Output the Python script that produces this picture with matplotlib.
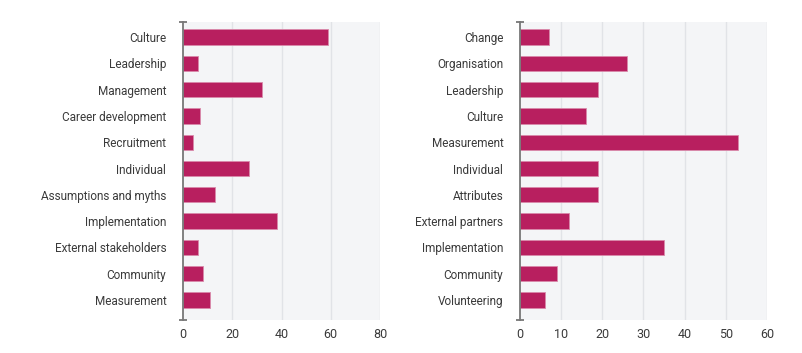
import matplotlib
matplotlib.use("Agg")
import matplotlib.pyplot as plt

left_cats = ["Culture", "Leadership", "Management", "Career development", "Recruitment",
             "Individual", "Assumptions and myths", "Implementation", "External stakeholders",
             "Community", "Measurement"]
left_vals = [59, 6, 32, 7, 4, 27, 13, 38, 6, 8, 11]
left_ticks = [0, 20, 40, 60, 80]

right_cats = ["Change", "Organisation", "Leadership", "Culture", "Measurement", "Individual",
              "Attributes", "External partners", "Implementation", "Community", "Volunteering"]
right_vals = [7, 26, 19, 16, 53, 19, 19, 12, 35, 9, 6]
right_ticks = [0, 10, 20, 30, 40, 50, 60]

plt.rcParams['font.family'] = ['Roboto', 'DejaVu Sans']

BAR = "#b81f5f"
BG = "#f4f5f7"
GRID = "#e1e3e7"
TXT = "#3a3a3a"
AX = "#777777"

fig = plt.figure(figsize=(8.03, 3.53), dpi=100)
ax1 = fig.add_axes([183/803, 1-320/353, 197/803, 298/353])
ax2 = fig.add_axes([520/803, 1-320/353, 247/803, 298/353])

def draw(ax, cats, vals, ticks):
    n = len(cats)
    ys = list(range(n))
    ax.set_facecolor(BG)
    ax.barh(ys, vals, height=0.58, color=BAR, edgecolor="#d98aab", linewidth=0.6, zorder=3)
    ax.set_ylim(n - 1 + 0.76, -0.57)
    ax.set_xlim(ticks[0], ticks[-1])
    ax.set_yticks(ys)
    ax.set_yticklabels(cats)
    ax.set_xticks(ticks)
    ax.tick_params(axis='both', length=0, colors=TXT, labelsize=8.5)
    ax.tick_params(axis='y', pad=12)
    ax.tick_params(axis='x', pad=6, labelsize=9)
    for t in ticks[1:]:
        ax.axvline(t, color=GRID, linewidth=1, zorder=1)
    for s in ["top", "right", "bottom"]:
        ax.spines[s].set_visible(False)
    ax.spines["left"].set_color(AX)
    ax.spines["left"].set_linewidth(1.3)
    ax.spines["left"].set_zorder(4)
    ax.plot([0, 0], [0, 1], transform=ax.transAxes, linestyle="none", marker="_",
            markersize=6, markeredgewidth=1.3, color=AX, clip_on=False, zorder=5)

draw(ax1, left_cats, left_vals, left_ticks)
draw(ax2, right_cats, right_vals, right_ticks)

fig.savefig("out.png", dpi=100, facecolor="white")
